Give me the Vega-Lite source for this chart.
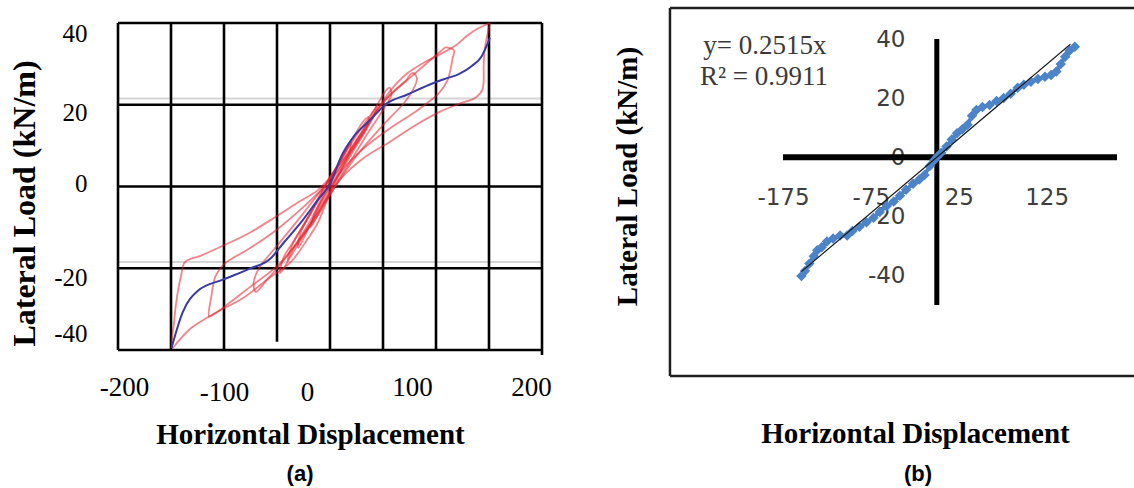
{
"$schema": "https://vega.github.io/schema/vega-lite/v6.json",
"width": 1134, "height": 488, "padding": 0, "autosize": {"type": "none"},
"background": "white",
"config": {"view": {"stroke": null}, "axis": {"domain": false, "ticks": false, "grid": false, "labelColor": "#000000", "titleColor": "#000000", "labelFlush": false, "labelOverlap": false, "labelExpr": "'' + datum.value"}},
"datasets": {
"grayA": [{"x1": -200, "x2": 200, "y1": 21.5, "y2": 21.5}, {"x1": -200, "x2": 200, "y1": -18.5, "y2": -18.5}],
"gridA": [
{"x1": -200, "x2": -200, "y1": -40, "y2": 40},
{"x1": -150, "x2": -150, "y1": -40, "y2": 40},
{"x1": -100, "x2": -100, "y1": -40, "y2": 40},
{"x1": -50, "x2": -50, "y1": -38, "y2": 40},
{"x1": 0, "x2": 0, "y1": -40, "y2": 40},
{"x1": 50, "x2": 50, "y1": -40, "y2": 40},
{"x1": 100, "x2": 100, "y1": -40, "y2": 40},
{"x1": 150, "x2": 150, "y1": -40, "y2": 40},
{"x1": 200, "x2": 200, "y1": -41.2, "y2": 40},
{"x1": -200, "x2": 200, "y1": 40, "y2": 40},
{"x1": -200, "x2": 200, "y1": 20, "y2": 20},
{"x1": -200, "x2": 200, "y1": 0, "y2": 0},
{"x1": -200, "x2": 200, "y1": -20, "y2": -20},
{"x1": -200, "x2": 200, "y1": -40, "y2": -40}
],
"redA": [
{"loop": 1, "x": 151, "y": 40}, {"loop": 1, "x": 146, "y": 33.7}, {"loop": 1, "x": 145, "y": 29.9}, {"loop": 1, "x": 143.8, "y": 23.7}, {"loop": 1, "x": 137.6, "y": 21.8}, {"loop": 1, "x": 121.6, "y": 20.2}, {"loop": 1, "x": 103, "y": 18.2}, {"loop": 1, "x": 80.6, "y": 15}, {"loop": 1, "x": 56.3, "y": 10.9}, {"loop": 1, "x": 31.5, "y": 6.9}, {"loop": 1, "x": 10.5, "y": 2}, {"loop": 1, "x": -2, "y": -3}, {"loop": 1, "x": -11.3, "y": -8.8}, {"loop": 1, "x": -21, "y": -12.8}, {"loop": 1, "x": -37.1, "y": -18.5}, {"loop": 1, "x": -59.6, "y": -22.8}, {"loop": 1, "x": -82, "y": -27.3}, {"loop": 1, "x": -108, "y": -30.9}, {"loop": 1, "x": -130.4, "y": -34.5}, {"loop": 1, "x": -142, "y": -37.5}, {"loop": 1, "x": -149, "y": -39.5}, {"loop": 1, "x": -147, "y": -33}, {"loop": 1, "x": -145, "y": -28.2}, {"loop": 1, "x": -140.6, "y": -21.9}, {"loop": 1, "x": -136.8, "y": -18.5}, {"loop": 1, "x": -121.7, "y": -16.9}, {"loop": 1, "x": -101, "y": -14.5}, {"loop": 1, "x": -75.7, "y": -11.3}, {"loop": 1, "x": -50, "y": -7.2}, {"loop": 1, "x": -30.7, "y": -4}, {"loop": 1, "x": -12, "y": -1}, {"loop": 1, "x": -4.9, "y": 0.8}, {"loop": 1, "x": 8, "y": 5}, {"loop": 1, "x": 20, "y": 9}, {"loop": 1, "x": 35, "y": 15}, {"loop": 1, "x": 50, "y": 21}, {"loop": 1, "x": 62, "y": 25}, {"loop": 1, "x": 73, "y": 27.7}, {"loop": 1, "x": 90, "y": 30.5}, {"loop": 1, "x": 105, "y": 32.5}, {"loop": 1, "x": 118.5, "y": 34.5}, {"loop": 1, "x": 130, "y": 37}, {"loop": 1, "x": 140, "y": 38.7}, {"loop": 1, "x": 151, "y": 40},
{"loop": 2, "x": 109, "y": 34.1}, {"loop": 2, "x": 116.9, "y": 33.3}, {"loop": 2, "x": 115.7, "y": 31.4}, {"loop": 2, "x": 110.9, "y": 26}, {"loop": 2, "x": 103, "y": 22.9}, {"loop": 2, "x": 92, "y": 20.5}, {"loop": 2, "x": 80.6, "y": 18.3}, {"loop": 2, "x": 56.3, "y": 14.2}, {"loop": 2, "x": 31.5, "y": 9.3}, {"loop": 2, "x": 10.5, "y": 3.6}, {"loop": 2, "x": 0, "y": -1.5}, {"loop": 2, "x": -10, "y": -6.5}, {"loop": 2, "x": -30, "y": -13.5}, {"loop": 2, "x": -50, "y": -19.5}, {"loop": 2, "x": -75, "y": -24.5}, {"loop": 2, "x": -95, "y": -28.5}, {"loop": 2, "x": -108, "y": -31}, {"loop": 2, "x": -114, "y": -31.8}, {"loop": 2, "x": -112, "y": -27}, {"loop": 2, "x": -108, "y": -21.9}, {"loop": 2, "x": -100, "y": -19}, {"loop": 2, "x": -75, "y": -15}, {"loop": 2, "x": -50, "y": -10.5}, {"loop": 2, "x": -25, "y": -5}, {"loop": 2, "x": 0, "y": 1.5}, {"loop": 2, "x": 25, "y": 10.5}, {"loop": 2, "x": 50, "y": 20.5}, {"loop": 2, "x": 75, "y": 26.5}, {"loop": 2, "x": 95, "y": 31}, {"loop": 2, "x": 109, "y": 34.1},
{"loop": 3, "x": 72, "y": 26}, {"loop": 3, "x": 78, "y": 27.8}, {"loop": 3, "x": 82, "y": 26.5}, {"loop": 3, "x": 78, "y": 23.5}, {"loop": 3, "x": 70, "y": 20.5}, {"loop": 3, "x": 50, "y": 15}, {"loop": 3, "x": 25, "y": 7.5}, {"loop": 3, "x": 5, "y": 0}, {"loop": 3, "x": -10, "y": -6}, {"loop": 3, "x": -25, "y": -11.5}, {"loop": 3, "x": -45, "y": -18.5}, {"loop": 3, "x": -60, "y": -23}, {"loop": 3, "x": -70, "y": -25.8}, {"loop": 3, "x": -72, "y": -23.5}, {"loop": 3, "x": -67, "y": -20}, {"loop": 3, "x": -50, "y": -14.5}, {"loop": 3, "x": -25, "y": -6.5}, {"loop": 3, "x": 0, "y": 2}, {"loop": 3, "x": 20, "y": 9.5}, {"loop": 3, "x": 40, "y": 17}, {"loop": 3, "x": 55, "y": 22}, {"loop": 3, "x": 72, "y": 26},
{"loop": 4, "x": 50, "y": 22.5}, {"loop": 4, "x": 56, "y": 24.2}, {"loop": 4, "x": 58, "y": 22.5}, {"loop": 4, "x": 52, "y": 19.5}, {"loop": 4, "x": 38, "y": 14}, {"loop": 4, "x": 20, "y": 6.5}, {"loop": 4, "x": 5, "y": 0.5}, {"loop": 4, "x": -10, "y": -5.5}, {"loop": 4, "x": -25, "y": -12}, {"loop": 4, "x": -38, "y": -17.5}, {"loop": 4, "x": -47, "y": -21.2}, {"loop": 4, "x": -44, "y": -17.5}, {"loop": 4, "x": -32, "y": -12.5}, {"loop": 4, "x": -18, "y": -6.5}, {"loop": 4, "x": -5, "y": -1}, {"loop": 4, "x": 8, "y": 4}, {"loop": 4, "x": 22, "y": 10}, {"loop": 4, "x": 36, "y": 16}, {"loop": 4, "x": 50, "y": 22.5},
{"loop": 5, "x": 30, "y": 15.5}, {"loop": 5, "x": 36, "y": 17}, {"loop": 5, "x": 35, "y": 14.5}, {"loop": 5, "x": 25, "y": 10}, {"loop": 5, "x": 10, "y": 3.5}, {"loop": 5, "x": -5, "y": -2.5}, {"loop": 5, "x": -18, "y": -9}, {"loop": 5, "x": -30, "y": -15}, {"loop": 5, "x": -28, "y": -11.5}, {"loop": 5, "x": -18, "y": -6.5}, {"loop": 5, "x": -5, "y": 0}, {"loop": 5, "x": 10, "y": 6.5}, {"loop": 5, "x": 22, "y": 12}, {"loop": 5, "x": 30, "y": 15.5},
{"loop": 6, "x": 20, "y": 11}, {"loop": 6, "x": 18, "y": 8}, {"loop": 6, "x": 8, "y": 3}, {"loop": 6, "x": -5, "y": -3.5}, {"loop": 6, "x": -18, "y": -10}, {"loop": 6, "x": -15, "y": -7}, {"loop": 6, "x": -5, "y": -1.5}, {"loop": 6, "x": 7, "y": 5}, {"loop": 6, "x": 20, "y": 11},
{"loop": 7, "x": 45, "y": 20}, {"loop": 7, "x": 40, "y": 16.5}, {"loop": 7, "x": 25, "y": 10.5}, {"loop": 7, "x": 10, "y": 4}, {"loop": 7, "x": -5, "y": -2}, {"loop": 7, "x": -20, "y": -9}, {"loop": 7, "x": -35, "y": -15.5}, {"loop": 7, "x": -40, "y": -18}, {"loop": 7, "x": -36, "y": -14.5}, {"loop": 7, "x": -22, "y": -8}, {"loop": 7, "x": -8, "y": -1.5}, {"loop": 7, "x": 8, "y": 5.5}, {"loop": 7, "x": 25, "y": 12.5}, {"loop": 7, "x": 45, "y": 20}
],
"blueA": [
{"x": -149.5, "y": -39.5}, {"x": -148, "y": -38.1}, {"x": -139.2, "y": -30.9}, {"x": -124.6, "y": -25.5}, {"x": -101.1, "y": -22.8}, {"x": -75.7, "y": -20.1}, {"x": -56.4, "y": -17.7}, {"x": -43.5, "y": -13.7}, {"x": -27.4, "y": -8.8}, {"x": -11.3, "y": -3.2}, {"x": 0.5, "y": 0.8}, {"x": 10.5, "y": 7.3}, {"x": 22.3, "y": 12.2}, {"x": 37.6, "y": 16.2}, {"x": 53, "y": 20.2}, {"x": 73.1, "y": 22.5}, {"x": 96.6, "y": 25.2}, {"x": 109.2, "y": 26.4}, {"x": 121.5, "y": 27.5}, {"x": 133.8, "y": 29.5}, {"x": 143, "y": 31.8}, {"x": 150.9, "y": 36.4}
],
"tagA": [{"x": -28.3, "y": -72, "text": "(a)"}],
"boxB": [{"x1": -303.6, "x2": 232, "y1": 50.5, "y2": 50.5}, {"x1": -303.6, "x2": -303.6, "y1": -74, "y2": 50.5}, {"x1": -303.6, "x2": 232, "y1": -74, "y2": -74}],
"hAxisB": [{"x1": -175, "x2": 205, "y1": 0, "y2": 0}],
"vAxisB": [{"x1": 0, "x2": 0, "y1": -50, "y2": 40}],
"blueB": [
{"x": -154, "y": -40.2}, {"x": -150, "y": -38.5}, {"x": -145, "y": -36}, {"x": -140, "y": -33.5}, {"x": -136, "y": -31.5}, {"x": -131, "y": -30.5}, {"x": -125, "y": -28.5}, {"x": -118, "y": -27.5}, {"x": -110, "y": -26.5}, {"x": -102, "y": -26.5}, {"x": -96, "y": -25}, {"x": -88, "y": -23.5}, {"x": -80, "y": -22}, {"x": -72, "y": -20.5}, {"x": -65, "y": -18.5}, {"x": -57, "y": -16.5}, {"x": -49, "y": -15}, {"x": -42, "y": -13}, {"x": -35, "y": -11}, {"x": -27, "y": -9}, {"x": -20, "y": -7.5}, {"x": -14, "y": -6}, {"x": -8, "y": -3}, {"x": -3, "y": -1}, {"x": 0, "y": 0}, {"x": 5, "y": 1.5}, {"x": 11, "y": 3.6}, {"x": 17, "y": 6}, {"x": 23, "y": 8.1}, {"x": 29, "y": 9.5}, {"x": 35, "y": 11}, {"x": 40, "y": 14}, {"x": 45, "y": 16}, {"x": 52, "y": 17}, {"x": 60, "y": 17.7}, {"x": 68, "y": 19}, {"x": 76, "y": 20}, {"x": 84, "y": 21.5}, {"x": 92, "y": 23.5}, {"x": 99, "y": 24.5}, {"x": 107, "y": 25.5}, {"x": 115, "y": 26.5}, {"x": 123, "y": 27.2}, {"x": 130, "y": 27.8}, {"x": 136, "y": 29}, {"x": 141, "y": 31.5}, {"x": 146, "y": 34}, {"x": 151, "y": 36}, {"x": 157, "y": 37.4}
],
"trendB": [{"x": -154, "y": -38.7}, {"x": 152, "y": 38.2}],
"eqB": [{"x": -195.5, "y": 37.6, "text": "y= 0.2515x"}, {"x": -196.6, "y": 27.1, "text": "R² = 0.9911"}],
"tagB": [{"x": -21.4, "y": -109.5, "text": "(b)"}]
},
"layer": [
{"data": {"name": "grayA"}, "mark": {"type": "rule", "color": "#d6d6d6", "strokeWidth": 2},
 "encoding": {
  "x": {"field": "x1", "type": "quantitative", "scale": {"domain": [-200, 200], "range": [118, 542], "nice": false, "zero": false},
   "axis": {"orient": "bottom", "offset": -138, "values": [-200, -100, 0, 100, 200], "labelFont": "Liberation Serif", "labelFontSize": 27, "labelPadding": {"condition": {"test": "datum.value === -100 || datum.value === 0", "value": 29}, "value": 24}, "labelOffset": {"condition": [{"test": "datum.value === -200", "value": 6}, {"test": "datum.value === 0", "value": -23}, {"test": "datum.value === 100", "value": -24}, {"test": "datum.value === 200", "value": -11}], "value": 0}, "title": "Horizontal Displacement", "titleFont": "Liberation Serif", "titleFontSize": 29, "titleFontWeight": "bold", "titleX": 310, "titleY": 93, "titleAlign": "center", "titleBaseline": "alphabetic"}},
  "x2": {"field": "x2"},
  "y": {"field": "y1", "type": "quantitative", "scale": {"domain": [-40, 40], "range": [350, 23], "nice": false, "zero": false},
   "axis": {"orient": "left", "offset": -118, "values": [-40, -20, 0, 20, 40], "labelFont": "Liberation Serif", "labelFontSize": 25, "labelPadding": 31, "labelOffset": {"condition": [{"test": "datum.value === 40", "value": 10}, {"test": "datum.value === 20", "value": 8}, {"test": "datum.value === 0", "value": -3}, {"test": "datum.value === -20", "value": 9}, {"test": "datum.value === -40", "value": -17}], "value": 0}, "title": "Lateral Load (kN/m)", "titleFont": "Liberation Serif", "titleFontSize": 32, "titleFontWeight": "bold", "titleX": -84, "titleY": 203, "titleAngle": -90, "titleAlign": "center", "titleBaseline": "alphabetic"}},
  "y2": {"field": "y2"}
 }},
{"data": {"name": "gridA"}, "mark": {"type": "rule", "color": "#000000", "strokeWidth": 2.6},
 "encoding": {
  "x": {"field": "x1", "type": "quantitative", "scale": {"domain": [-200, 200], "range": [118, 542], "nice": false, "zero": false}, "axis": null},
  "x2": {"field": "x2"},
  "y": {"field": "y1", "type": "quantitative", "scale": {"domain": [-40, 40], "range": [350, 23], "nice": false, "zero": false}, "axis": null},
  "y2": {"field": "y2"}
 }},
{"data": {"name": "redA"}, "mark": {"type": "line", "color": "#e5202c", "opacity": 0.55, "strokeWidth": 1.8, "interpolate": "catmull-rom"},
 "encoding": {
  "x": {"field": "x", "type": "quantitative", "scale": {"domain": [-200, 200], "range": [118, 542], "nice": false, "zero": false}, "axis": null},
  "y": {"field": "y", "type": "quantitative", "scale": {"domain": [-40, 40], "range": [350, 23], "nice": false, "zero": false}, "axis": null},
  "detail": {"field": "loop", "type": "nominal"},
  "order": {"value": null}
 }},
{"data": {"name": "blueA"}, "mark": {"type": "line", "color": "#3a3aa4", "strokeWidth": 2, "interpolate": "monotone"},
 "encoding": {
  "x": {"field": "x", "type": "quantitative", "scale": {"domain": [-200, 200], "range": [118, 542], "nice": false, "zero": false}, "axis": null},
  "y": {"field": "y", "type": "quantitative", "scale": {"domain": [-40, 40], "range": [350, 23], "nice": false, "zero": false}, "axis": null},
  "order": {"value": null}
 }},
{"data": {"name": "tagA"}, "mark": {"type": "text", "font": "Liberation Sans", "fontWeight": "bold", "fontSize": 22, "align": "center", "baseline": "alphabetic", "color": "#000000"},
 "encoding": {
  "x": {"field": "x", "type": "quantitative", "scale": {"domain": [-200, 200], "range": [118, 542], "nice": false, "zero": false}, "axis": null},
  "y": {"field": "y", "type": "quantitative", "scale": {"domain": [-40, 40], "range": [350, 23], "nice": false, "zero": false}, "axis": null},
  "text": {"field": "text"}
 }},
{"data": {"name": "boxB"}, "mark": {"type": "rule", "color": "#1e1e1e", "strokeWidth": 2.5},
 "encoding": {
  "x": {"field": "x1", "type": "quantitative", "scale": {"domain": [-175, 205], "range": [783, 1117], "nice": false, "zero": false},
   "axis": {"orient": "bottom", "offset": -331, "values": [-175, -75, 25, 125], "labelFont": "DejaVu Sans", "labelFontSize": 23, "labelColor": "#3d3d3d", "labelPadding": 29, "title": "Horizontal Displacement", "titleFont": "Liberation Serif", "titleFontSize": 29, "titleFontWeight": "bold", "titleX": 915, "titleY": 285, "titleAlign": "center", "titleBaseline": "alphabetic"}},
  "x2": {"field": "x2"},
  "y": {"field": "y1", "type": "quantitative", "scale": {"domain": [-50, 40], "range": [305, 39], "nice": false, "zero": false},
   "axis": {"orient": "left", "offset": -937, "values": [-40, -20, 0, 20, 40], "labelFont": "DejaVu Sans", "labelFontSize": 23, "labelColor": "#3d3d3d", "labelPadding": 32, "title": "Lateral Load (kN/m)", "titleFont": "Liberation Serif", "titleFontSize": 29, "titleFontWeight": "bold", "titleX": -301, "titleY": 176, "titleAngle": -90, "titleAlign": "center", "titleBaseline": "alphabetic"}},
  "y2": {"field": "y2"}
 }},
{"data": {"name": "hAxisB"}, "mark": {"type": "rule", "color": "#000000", "strokeWidth": 6},
 "encoding": {
  "x": {"field": "x1", "type": "quantitative", "scale": {"domain": [-175, 205], "range": [783, 1117], "nice": false, "zero": false}, "axis": null},
  "x2": {"field": "x2"},
  "y": {"field": "y1", "type": "quantitative", "scale": {"domain": [-50, 40], "range": [305, 39], "nice": false, "zero": false}, "axis": null},
  "y2": {"field": "y2"}
 }},
{"data": {"name": "vAxisB"}, "mark": {"type": "rule", "color": "#000000", "strokeWidth": 5},
 "encoding": {
  "x": {"field": "x1", "type": "quantitative", "scale": {"domain": [-175, 205], "range": [783, 1117], "nice": false, "zero": false}, "axis": null},
  "x2": {"field": "x2"},
  "y": {"field": "y1", "type": "quantitative", "scale": {"domain": [-50, 40], "range": [305, 39], "nice": false, "zero": false}, "axis": null},
  "y2": {"field": "y2"}
 }},
{"data": {"name": "blueB"}, "mark": {"type": "line", "color": "#4d84c8", "strokeWidth": 4},
 "encoding": {
  "x": {"field": "x", "type": "quantitative", "scale": {"domain": [-175, 205], "range": [783, 1117], "nice": false, "zero": false}, "axis": null},
  "y": {"field": "y", "type": "quantitative", "scale": {"domain": [-50, 40], "range": [305, 39], "nice": false, "zero": false}, "axis": null},
  "order": {"value": null}
 }},
{"data": {"name": "blueB"}, "mark": {"type": "point", "shape": "diamond", "filled": true, "color": "#4d84c8", "opacity": 1, "size": 110},
 "encoding": {
  "x": {"field": "x", "type": "quantitative", "scale": {"domain": [-175, 205], "range": [783, 1117], "nice": false, "zero": false}, "axis": null},
  "y": {"field": "y", "type": "quantitative", "scale": {"domain": [-50, 40], "range": [305, 39], "nice": false, "zero": false}, "axis": null}
 }},
{"data": {"name": "trendB"}, "mark": {"type": "line", "color": "#1a1a1a", "strokeWidth": 1.2},
 "encoding": {
  "x": {"field": "x", "type": "quantitative", "scale": {"domain": [-175, 205], "range": [783, 1117], "nice": false, "zero": false}, "axis": null},
  "y": {"field": "y", "type": "quantitative", "scale": {"domain": [-50, 40], "range": [305, 39], "nice": false, "zero": false}, "axis": null}
 }},
{"data": {"name": "eqB"}, "mark": {"type": "text", "font": "Liberation Serif", "fontSize": 27, "align": "center", "baseline": "middle", "color": "#3a3a3a"},
 "encoding": {
  "x": {"field": "x", "type": "quantitative", "scale": {"domain": [-175, 205], "range": [783, 1117], "nice": false, "zero": false}, "axis": null},
  "y": {"field": "y", "type": "quantitative", "scale": {"domain": [-50, 40], "range": [305, 39], "nice": false, "zero": false}, "axis": null},
  "text": {"field": "text"}
 }},
{"data": {"name": "tagB"}, "mark": {"type": "text", "font": "Liberation Sans", "fontWeight": "bold", "fontSize": 22, "align": "center", "baseline": "alphabetic", "color": "#000000"},
 "encoding": {
  "x": {"field": "x", "type": "quantitative", "scale": {"domain": [-175, 205], "range": [783, 1117], "nice": false, "zero": false}, "axis": null},
  "y": {"field": "y", "type": "quantitative", "scale": {"domain": [-50, 40], "range": [305, 39], "nice": false, "zero": false}, "axis": null},
  "text": {"field": "text"}
 }}
],
"resolve": {"scale": {"x": "independent", "y": "independent"}}
}
